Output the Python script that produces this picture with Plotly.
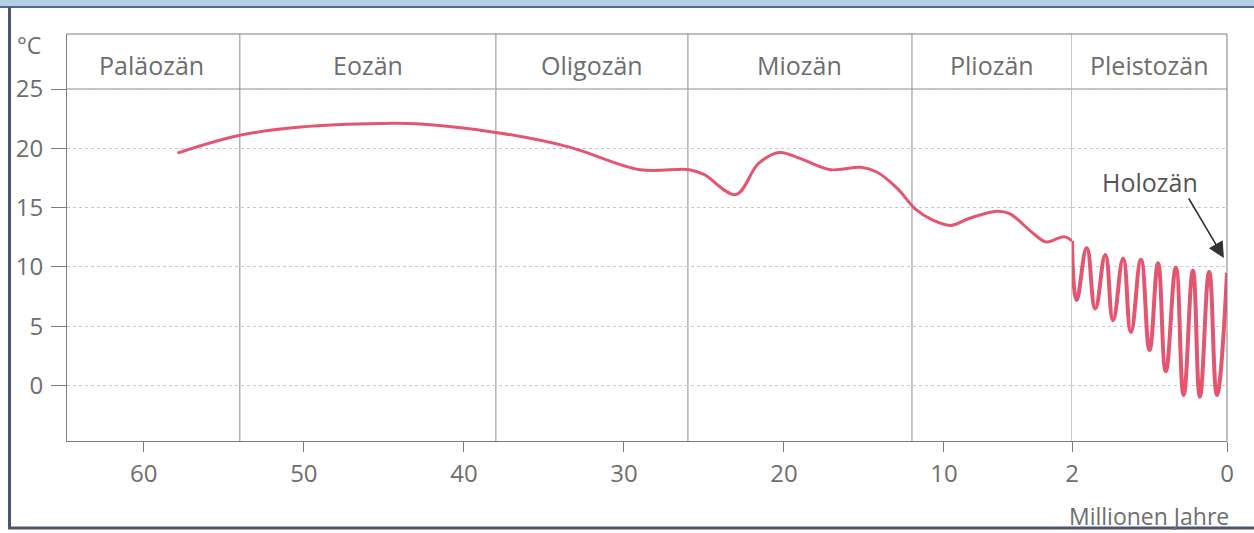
import plotly.graph_objects as go

# ---------------- data ----------------
# Tertiary curve (million years ago -> temperature °C)
tert_age = [57.9, 54.0, 50.2, 45.2, 42.7, 37.8, 33.4, 29.0, 25.9, 25.0, 23.0,
            21.6, 20.3, 19.0, 17.1, 15.2, 14.2, 12.9, 11.8, 10.7, 9.6, 8.4, 6.7,
            5.9, 4.4, 3.6, 2.5, 2.0]
tert_temp = [19.6, 21.1, 21.8, 22.1, 22.05, 21.3, 20.1, 18.2, 18.2, 17.8, 16.1,
             18.7, 19.65, 19.15, 18.2, 18.4, 18.0, 16.6, 14.9, 13.95, 13.5, 14.1, 14.7,
             14.5, 12.8, 12.1, 12.55, 12.2]

# Pleistocene oscillations (stretched axis 2 -> 0)
pleist_age = [2.0, 1.94, 1.81, 1.70, 1.57, 1.47, 1.34, 1.24, 1.11, 1.00, 0.89, 0.79,
              0.66, 0.56, 0.44, 0.35, 0.23, 0.13, 0.0]
pleist_temp = [12.2, 7.2, 11.6, 6.5, 11.0, 5.5, 10.7, 4.5, 10.6, 3.0, 10.3, 1.2,
               9.95, -0.8, 9.7, -0.95, 9.6, -0.8, 9.5]

epoch_names = ["Paläozän", "Eozän", "Oligozän", "Miozän", "Pliozän", "Pleistozän"]
epoch_start = [65, 54, 38, 26, 12, 2]
epoch_end = [54, 38, 26, 12, 2, 0]

x_ticks_main = [60, 50, 40, 30, 20, 10, 2]
x_ticks_pleist = [0]
y_ticks = [0, 5, 10, 15, 20, 25]

# ---------------- style ----------------
W, H = 1254, 533
ML, MR, MT, MB = 67, 27, 34, 92
PW, PH = W - ML - MR, H - MT - MB
SPLIT = (1072 - ML) / PW

CURVE = "#e4566f"
TXT = "#6e6e6e"
AX = "#7c7c7c"
GRID = "#c8c8c8"
FONT = "Open Sans"


def px_x(px):
    return (px - ML) / PW


def px_y(py):
    return (H - MB - py) / PH


fig = go.Figure()
fig.add_trace(go.Scatter(x=tert_age, y=tert_temp, xaxis="x", yaxis="y", mode="lines",
                         line=dict(color=CURVE, width=3, shape="spline", smoothing=1.0),
                         hoverinfo="skip", showlegend=False))
fig.add_trace(go.Scatter(x=pleist_age, y=pleist_temp, xaxis="x2", yaxis="y", mode="lines",
                         line=dict(color=CURVE, width=4, shape="spline", smoothing=1.3),
                         hoverinfo="skip", showlegend=False))

shapes = []
# epoch boundaries
for b in epoch_start[1:]:
    shapes.append(dict(type="line", xref="x", yref="paper", x0=b, x1=b, y0=0, y1=1,
                       line=dict(color="#8c8c8c", width=1), layer="below"))
# header separator at 25 °C
shapes.append(dict(type="line", xref="paper", yref="y", x0=0, x1=1, y0=25, y1=25,
                   line=dict(color="#8c8c8c", width=1), layer="below"))
# frame top and right
shapes.append(dict(type="line", xref="paper", yref="paper", x0=0, x1=1, y0=1, y1=1,
                   line=dict(color=AX, width=1)))
shapes.append(dict(type="line", xref="paper", yref="paper", x0=1, x1=1, y0=0, y1=1,
                   line=dict(color=AX, width=1)))
# scanned page border
shapes.append(dict(type="rect", xref="paper", yref="paper", x0=px_x(0), x1=px_x(W),
                   y0=px_y(7), y1=px_y(0), fillcolor="#b2d0e6", line=dict(width=0)))
shapes.append(dict(type="line", xref="paper", yref="paper", x0=px_x(0), x1=px_x(W),
                   y0=px_y(7), y1=px_y(7), line=dict(color="#56688a", width=2)))
shapes.append(dict(type="line", xref="paper", yref="paper", x0=px_x(9.5), x1=px_x(9.5),
                   y0=px_y(528), y1=px_y(7), line=dict(color="#4b5470", width=3)))
shapes.append(dict(type="line", xref="paper", yref="paper", x0=px_x(8), x1=px_x(W),
                   y0=px_y(528), y1=px_y(528), line=dict(color="#4b5470", width=3)))

annotations = []
for name, s, e in zip(epoch_names, epoch_start, epoch_end):
    xref = "x2" if s <= 2 else "x"
    annotations.append(dict(text=name, x=(s + e) / 2, y=27.0, xref=xref, yref="y",
                            showarrow=False, font=dict(family=FONT, size=25, color=TXT),
                            xanchor="center", yanchor="middle"))
annotations.append(dict(text="°C", x=px_x(15), y=px_y(45), xref="paper", yref="paper",
                        showarrow=False, xanchor="left", yanchor="middle",
                        font=dict(family=FONT, size=23, color=TXT)))
annotations.append(dict(text="Millionen Jahre", x=1, xshift=4, y=px_y(516), xref="paper",
                        yref="paper", showarrow=False, xanchor="right", yanchor="middle",
                        font=dict(family=FONT, size=23, color=TXT)))
annotations.append(dict(text="Holozän", x=1.0, y=17.2, xref="x2", yref="y",
                        showarrow=False, xanchor="center", yanchor="middle",
                        font=dict(family=FONT, size=25, color="#555555")))
annotations.append(dict(text="", x=0.04, y=10.75, xref="x2", yref="y", showarrow=True,
                        ax=-36, ay=-61, arrowhead=2, arrowsize=2.0, arrowwidth=1.6,
                        arrowcolor="#333333"))

axis_font = dict(family=FONT, size=24, color=TXT)
fig.update_layout(
    width=W, height=H,
    margin=dict(l=ML, r=MR, t=MT, b=MB, pad=0),
    paper_bgcolor="white", plot_bgcolor="white",
    xaxis=dict(domain=[0, SPLIT], range=[64.8, 2], tickvals=x_ticks_main, ticks="outside",
               ticklen=10, tickcolor=AX, showgrid=False, zeroline=False, showline=True,
               linecolor=AX, tickfont=axis_font, anchor="y", ticklabelstandoff=1),
    xaxis2=dict(domain=[SPLIT, 1], range=[2, 0], tickvals=x_ticks_pleist, ticks="outside",
                ticklen=10, tickcolor=AX, showgrid=False, zeroline=False, showline=True,
                linecolor=AX, tickfont=axis_font, anchor="y", ticklabelstandoff=1),
    yaxis=dict(range=[-4.68, 29.64], tickvals=y_ticks, ticks="outside", ticklen=15,
               tickcolor=AX, showgrid=True, gridcolor=GRID, griddash="dot", gridwidth=1,
               zeroline=False, showline=True, linecolor=AX, tickfont=axis_font,
               anchor="x", ticklabelstandoff=3),
    shapes=shapes, annotations=annotations,
)

fig.write_html("out.html", config={"displayModeBar": False},
               post_script="document.body.style.margin='0';")
